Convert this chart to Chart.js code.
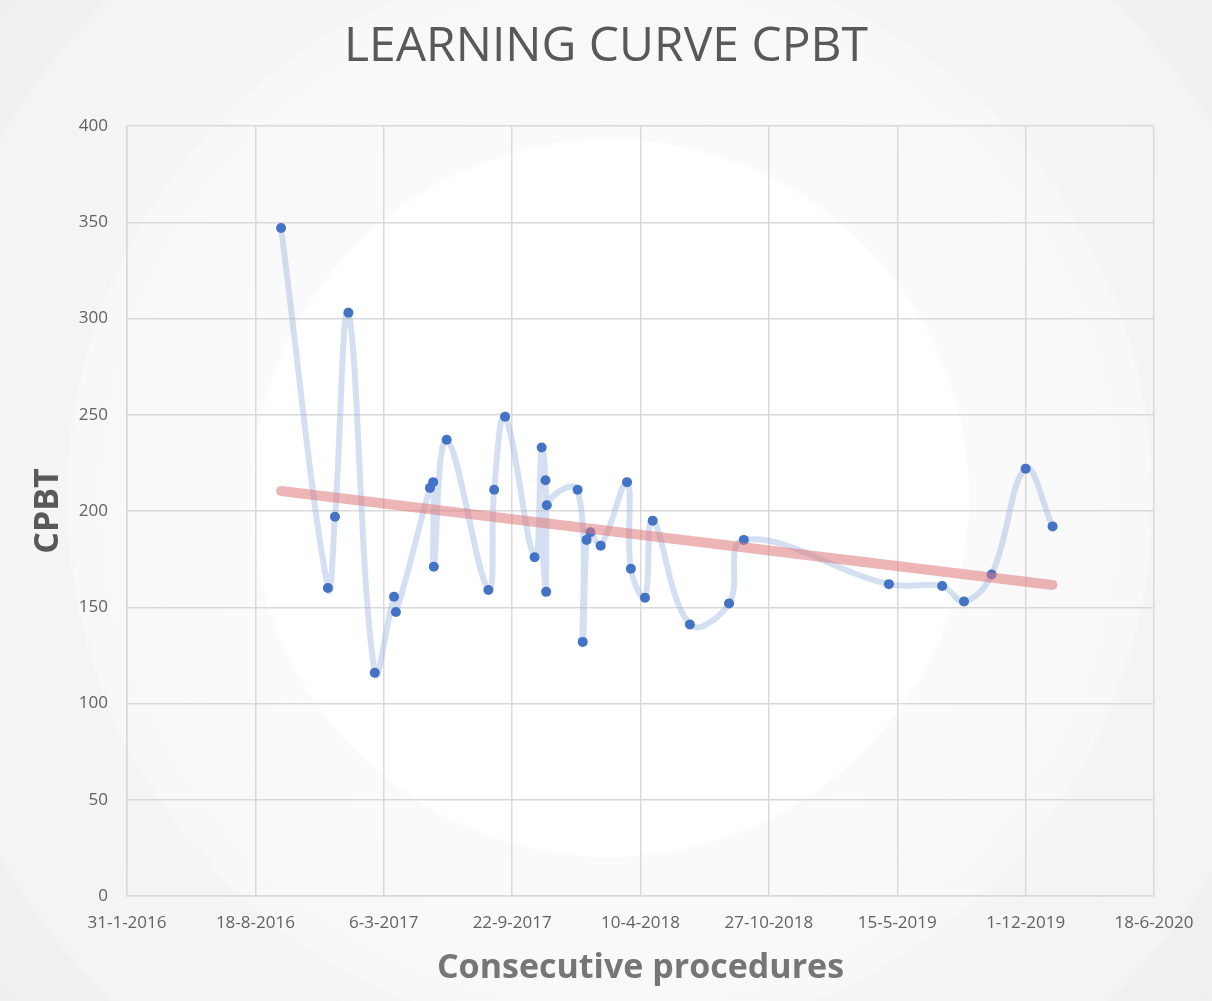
<!DOCTYPE html>
<html>
<head>
<meta charset="utf-8">
<script src="https://cdn.jsdelivr.net/npm/chart.js@4.4.1/dist/chart.umd.min.js"></script>
<style>
  html, body { margin: 0; padding: 0; }
  body {
    width: 1212px; height: 1001px; overflow: hidden;
    background: radial-gradient(circle at 610px 498px,
      #ffffff 0, #ffffff 357px,
      #fafafa 360px, #f8f8f8 540px,
      #f5f5f5 545px, #f4f4f4 705px,
      #f0f0f0 712px, #eeeeee 900px);
  }
  #wrap { position: relative; width: 1212px; height: 1001px; }
</style>
</head>
<body>
<div id="wrap"><canvas id="chart"></canvas></div>
<script>
// procedure dates (d-m-yyyy) and CPBT values
const procDates = [
  "27-9-2016","9-12-2016","20-12-2016","10-1-2017","20-2-2017","22-3-2017","25-3-2017",
  "17-5-2017","22-5-2017","23-5-2017","12-6-2017","16-8-2017","25-8-2017","11-9-2017",
  "27-10-2017","7-11-2017","13-11-2017","14-11-2017","15-11-2017","2-1-2018","10-1-2018",
  "16-1-2018","22-1-2018","7-2-2018","20-3-2018","26-3-2018","17-4-2018","29-4-2018",
  "26-6-2018","26-8-2018","18-9-2018","2-5-2019","24-7-2019","27-8-2019","9-10-2019",
  "1-12-2019","12-1-2020"
];
const cpbtValues = [
  347,160,197,303,116,155.5,147.5,
  212,215,171,237,159,211,249,
  176,233,216,158,203,211,132,
  185,189,182,215,170,155,195,
  141,152,185,162,161,153,167,
  222,192
];
// linear trend line, two ends
const trendDates = ["27-9-2016","12-1-2020"];
const trendValues = [210.4, 161.6];

// x axis: days counted from 31-1-2016, a tick every 200 days
const axisStart = "31-1-2016";
const axisEnd = "18-6-2020";
const tickStepDays = 200;
const yTicks = { min: 0, max: 400, step: 50 };

function toUTC(s){
  const p = s.split("-").map(Number);
  return Date.UTC(p[2], p[1]-1, p[0]);
}
const DAY = 86400000;
const t0 = toUTC(axisStart);
function dayNum(s){ return Math.round((toUTC(s) - t0) / DAY); }
function dayLabel(n){
  const d = new Date(t0 + n*DAY);
  return d.getUTCDate() + "-" + (d.getUTCMonth()+1) + "-" + d.getUTCFullYear();
}

const points = procDates.map((d,i)=>({ x: dayNum(d), y: cpbtValues[i] }));
const trend = trendDates.map((d,i)=>({ x: dayNum(d), y: trendValues[i] }));

const tickFont = { family: "'Open Sans'", size: 17 };
const gridColor = "#d9d9d9";

new Chart(document.getElementById("chart"), {
  type: "line",
  data: {
    datasets: [
      {
        label: "Trend",
        data: trend,
        borderColor: "rgba(222,120,120,0.55)",
        borderWidth: 10,
        borderCapStyle: "round",
        pointRadius: 0,
        fill: false
      },
      {
        label: "CPBT",
        data: points,
        borderColor: "rgba(160,186,226,0.45)",
        borderWidth: 6,
        tension: 0.4,
        pointRadius: 5,
        pointBackgroundColor: "#4472c4",
        pointBorderWidth: 0,
        fill: false
      }
    ]
  },
  options: {
    responsive: true,
    maintainAspectRatio: false,
    animation: false,
    layout: { padding: { left: 0, right: 0, top: 0, bottom: 0 } },
    plugins: {
      legend: { display: false },
      tooltip: { enabled: false },
      title: {
        display: true,
        text: "LEARNING CURVE CPBT",
        color: "#595959",
        font: { family: "'Open Sans'", size: 48, weight: "normal", lineHeight: 1.2 },
        padding: { top: 19, bottom: 49.4 }
      }
    },
    scales: {
      x: {
        type: "linear",
        min: 0,
        max: dayNum(axisEnd),
        afterBuildTicks: s => {
          const t = [];
          for (let v = 0; v <= dayNum(axisEnd); v += tickStepDays) t.push({ value: v });
          s.ticks = t;
        },
        afterFit: s => { s.height = 105; },
        grid: { color: gridColor, lineWidth: 1.5, drawTicks: false },
        border: { color: gridColor, width: 1.5 },
        ticks: {
          color: "#626262",
          font: tickFont,
          padding: 17,
          maxRotation: 0,
          callback: v => dayLabel(v)
        },
        title: {
          display: true,
          text: "Consecutive procedures",
          color: "#767676",
          font: { family: "'Open Sans'", size: 34, weight: "bold", lineHeight: 1.2 },
          padding: { top: 0, bottom: 12 }
        }
      },
      y: {
        min: yTicks.min,
        max: yTicks.max,
        afterFit: s => { s.width = 127; },
        grid: { color: gridColor, lineWidth: 1.5, drawTicks: false },
        border: { color: gridColor, width: 1.5 },
        ticks: {
          stepSize: yTicks.step,
          color: "#626262",
          font: tickFont,
          padding: 19
        },
        title: {
          display: true,
          text: "CPBT",
          color: "#595959",
          font: { family: "'Open Sans'", size: 34, weight: "bold", lineHeight: 1.2 },
          padding: { top: 28, bottom: 0 }
        }
      },
      yRight: {
        position: "right",
        display: true,
        afterFit: s => { s.width = 58; },
        grid: { display: false },
        border: { display: false },
        ticks: { display: false }
      }
    }
  }
});
</script>
</body>
</html>
